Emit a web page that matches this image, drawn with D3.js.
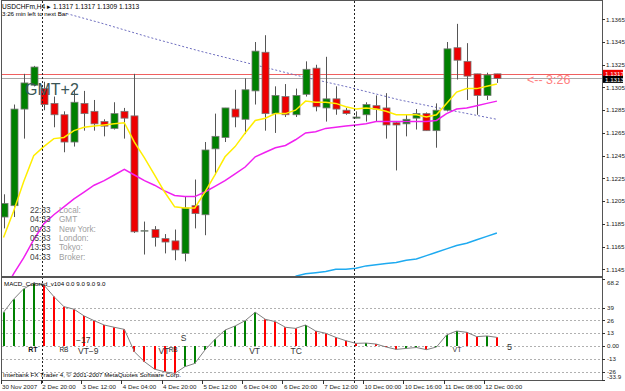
<!DOCTYPE html>
<meta charset="utf-8">
<style>
 body { margin: 0; background: #fff; }
 svg { display: block; }
 text { font-family: "Liberation Sans", Arial, sans-serif; }
</style>
<svg class="chart"></svg>
<script src="https://cdn.jsdelivr.net/npm/d3@7/dist/d3.min.js"></script>
<script>

 // USDCHFm H4 bars
 var opens  = [1.1191,1.1201,1.1286,1.1307,1.1304,1.1291,1.1281,1.1257,1.1291,1.1284,
               1.1275,1.1269,1.1284,1.1280,1.1179,1.1180,1.1172,1.1170,1.1159,1.1201,
               1.1193,1.1251,1.1261,1.1286,1.1277,1.1302,1.1336,1.1282,1.1297,1.1281,
               1.1299,1.1322,1.1287,1.1295,1.1285,1.1278,1.1281,1.1289,1.1287,1.1274,
               1.1273,1.1278,1.1282,1.1267,1.1285,1.1340,1.1328,1.1317,1.1298,1.1317];
 var highs  = [1.1211,1.1290,1.1317,1.1324,1.1310,1.1297,1.1284,1.1303,1.1302,1.1294,
               1.1277,1.1292,1.1287,1.1317,1.1187,1.1183,1.1176,1.1180,1.1209,1.1224,
               1.1257,1.1282,1.1287,1.1303,1.1313,1.1345,1.1351,1.1306,1.1308,1.1304,
               1.1328,1.1325,1.1332,1.1306,1.1287,1.1284,1.1292,1.1298,1.1300,1.1275,
               1.1281,1.1286,1.1283,1.1291,1.1345,1.1361,1.1344,1.1317,1.1318,1.1317];
 var lows   = [1.1181,1.1191,1.1260,1.1306,1.1285,1.1270,1.1248,1.1253,1.1267,1.1267,
               1.1262,1.1268,1.1260,1.1177,1.1158,1.1165,1.1159,1.1153,1.1152,1.1181,
               1.1175,1.1228,1.1257,1.1270,1.1264,1.1290,1.1267,1.1265,1.1279,1.1279,
               1.1297,1.1284,1.1275,1.1281,1.1281,1.1278,1.1275,1.1275,1.1260,1.1232,
               1.1262,1.1268,1.1267,1.1252,1.1284,1.1312,1.1294,1.1281,1.1294,1.1309];
 var closes = [1.1203,1.1286,1.1309,1.1323,1.1290,1.1281,1.1257,1.1292,1.1282,1.1273,
               1.1271,1.1282,1.1278,1.1178,1.1179,1.1173,1.1169,1.1162,1.1199,1.1194,
               1.1250,1.1262,1.1287,1.1279,1.1303,1.1337,1.1282,1.1298,1.1281,1.1298,
               1.1321,1.1288,1.1295,1.1286,1.1282,1.1279,1.1290,1.1286,1.1272,1.1272,
               1.1277,1.1282,1.1267,1.1285,1.1339,1.1329,1.1315,1.1298,1.1316,1.1313];

 var maYellow = [1.1173,1.1196,1.1222,1.1245,1.1253,1.1260,1.1261,1.1267,1.1270,1.1271,
                 1.1272,1.1273,1.1274,1.1257,1.1243,1.1228,1.1213,1.1200,1.1199,1.1199,
                 1.1213,1.1228,1.1244,1.1253,1.1265,1.1276,1.1278,1.1282,1.1282,1.1285,
                 1.1293,1.1292,1.1292,1.1291,1.1288,1.1286,1.1287,1.1286,1.1284,1.1281,
                 1.1281,1.1281,1.1279,1.1281,1.1291,1.1301,1.1304,1.1304,1.1306,1.1308];
 var maMagenta = [1.1125,1.1141,1.1155,1.1171,1.1185,1.1193,1.1200,1.1207,1.1213,1.1219,
                  1.1223,1.1228,1.1233,1.1228,1.1223,1.1219,1.1214,1.1210,1.1209,1.1209,
                  1.1213,1.1218,1.1223,1.1229,1.1235,1.1244,1.1248,1.1252,1.1254,1.1259,
                  1.1265,1.1266,1.1269,1.1270,1.1271,1.1272,1.1273,1.1275,1.1275,1.1275,
                  1.1275,1.1275,1.1275,1.1276,1.1282,1.1286,1.1287,1.1289,1.1291,1.1293];
 var maBlue = [null,null,null,null,null,null,null,null,null,null,
               null,null,null,null,null,null,null,null,null,null,
               null,null,null,null,null,null,null,null,null,1.1139,
               1.1141,1.1142,1.1143,1.1145,1.1145,1.1146,1.1148,1.1149,1.1150,1.1151,
               1.1153,1.1154,1.1157,1.1160,1.1163,1.1166,1.1168,1.1171,1.1174,1.1177];

 var trendBars   = [6.28, 9.58, 14.55, 19.51, 24.48, 29.44, 34.41, 39.37, 44.34, 49];
 var trendPrices = [1.1370,1.1362,1.1349,1.1337,1.1326,1.1315,1.1305,1.1294,1.1285,1.1277];

 var macd = [34.2,47.4,57.9,63.7,61.9,50.1,39.9,37.3,30.5,25.7,
             21.3,19.0,16.9,-5.8,-15.9,-23.4,-26.1,-27.7,-21.0,-17.6,
             -4.1,6.8,16.2,20.3,25.7,34.2,27.1,24.7,19.0,17.9,
             21.3,15.2,12.9,8.8,5.4,2.7,3.0,2.0,-1.0,-3.4,
             -2.4,-1.5,-3.7,-1.0,11.2,15.2,13.9,9.5,10.2,8.8];

 var priceTicks = [1.1365,1.1345,1.1325,1.1305,1.1285,1.1265,1.1245,1.1225,1.1205,1.1185,1.1165,1.1145];
 var macdTicks  = [68.2, 39, 26, 13, 0, -13, -26, -33.9];
 var macdGrid   = [39, 26, 13, 0, -13, -26];
 var timeBars   = [0,4,8,12,16,20,24,28,32,36,40,44,48];
 var timeLabels = ["30 Nov 2007","2 Dec 20:00","3 Dec 12:00","4 Dec 04:00","4 Dec 20:00","5 Dec 12:00",
                   "6 Dec 04:00","6 Dec 20:00","7 Dec 12:00","10 Dec 00:00","10 Dec 16:00","11 Dec 08:00","12 Dec 00:00"];
 var separatorBars = [4, 35];

 var clockTimes  = ["22:33","04:33","00:33","05:33","13:33","04:33"];
 var clockPlaces = ["Local:","GMT","New York:","London:","Tokyo:","Broker:"];

 var marks = [ {t:"RT", b:2.45, v:-6.5, size:7, w:"bold", c:"#111"},
               {t:"RB", b:5.55, v:-6.5, size:6.5, w:"normal", c:"#222"},
               {t:"VT\u22129", b:7.4, v:-8.5, size:8.5, w:"normal", c:"#333"},
               {t:"\u221217", b:7.2, v:3.0, size:8.5, w:"normal", c:"#333"},
               {t:"VT", b:15.4, v:-8.5, size:8.5, w:"normal", c:"#333"},
               {t:"RB", b:16.4, v:-6.5, size:6.5, w:"normal", c:"#222"},
               {t:"S", b:17.6, v:5.0, size:8.5, w:"normal", c:"#333"},
               {t:"VT", b:24.4, v:-8.5, size:8.5, w:"normal", c:"#333"},
               {t:"TC", b:28.5, v:-8.5, size:8.5, w:"normal", c:"#333"},
               {t:"VT", b:44.6, v:-6.5, size:7, w:"normal", c:"#333"},
               {t:"5", b:50, v:-3.6, size:9, w:"normal", c:"#333"} ];

 var W = 625, H = 391;
 var svg = d3.select(".chart").attr("width", W).attr("height", H);

 var x  = d3.scaleLinear().domain([0, 49]).range([3.5, 496.9]);
 var y  = d3.scaleLinear().domain([1.1145, 1.1365]).range([269.3, 19.3]);
 var ym = d3.scaleLinear().domain([-33.9, 68.2]).range([379.5, 278.7]);

 var defs = svg.append("defs");
 defs.append("clipPath").attr("id", "mainClip").append("rect")
     .attr("x", 2).attr("y", 1).attr("width", 600).attr("height", 275);
 defs.append("clipPath").attr("id", "macdClip").append("rect")
     .attr("x", 2).attr("y", 278).attr("width", 600).attr("height", 102);

 // frame
 svg.append("rect").attr("x", 1.5).attr("y", 0.5).attr("width", 601).attr("height", 380)
    .attr("fill", "#fff").attr("stroke", "#555");

 var main = svg.append("g").attr("clip-path", "url(#mainClip)");
 var sub  = svg.append("g").attr("clip-path", "url(#macdClip)");

 // period separators
 svg.selectAll(".sep").data(separatorBars).enter().append("line")
    .attr("x1", function(d) { return Math.round(x(d)) - 1.5; })
    .attr("x2", function(d) { return Math.round(x(d)) - 1.5; })
    .attr("y1", 1).attr("y2", 383)
    .attr("stroke", "#222").attr("stroke-dasharray", "2,2");

 // ask / bid lines
 main.append("line").attr("x1", 2).attr("x2", 602)
     .attr("y1", Math.round(y(highs[49])) + 0.5).attr("y2", Math.round(y(highs[49])) + 0.5)
     .attr("stroke", "#f06060");
 main.append("line").attr("x1", 2).attr("x2", 602)
     .attr("y1", Math.round(y(closes[49])) + 0.5).attr("y2", Math.round(y(closes[49])) + 0.5)
     .attr("stroke", "#a8a8a8");

 // trend line
 var trend = d3.zip(trendBars, trendPrices);
 main.append("path").datum(trend)
     .attr("d", d3.line().x(function(d) { return x(d[0]); }).y(function(d) { return y(d[1]); }))
     .attr("fill", "none").attr("stroke", "#6f6fc0").attr("stroke-dasharray", "2,2");

 // candles
 var idx = d3.range(opens.length);
 var candle = main.selectAll(".candle").data(idx).enter().append("g");
 candle.append("line")
     .attr("x1", function(i) { return Math.round(x(i)) + 0.5; })
     .attr("x2", function(i) { return Math.round(x(i)) + 0.5; })
     .attr("y1", function(i) { return y(highs[i]); })
     .attr("y2", function(i) { return y(lows[i]); })
     .attr("stroke", "#555");
 candle.append("rect")
     .attr("x", function(i) { return Math.round(x(i)) - 3; })
     .attr("width", 7)
     .attr("y", function(i) { return y(Math.max(opens[i], closes[i])); })
     .attr("height", function(i) { return Math.max(0.5, Math.abs(y(opens[i]) - y(closes[i]))); })
     .attr("fill", function(i) { return closes[i] >= opens[i] ? "#008000" : "#ee0000"; })
     .attr("stroke", "#777").attr("stroke-width", 0.8);

 // moving averages
 function maLine(arr, color, w) {
     main.append("path").datum(idx)
         .attr("d", d3.line().defined(function(i) { return arr[i] != null; })
                 .x(function(i) { return x(i); }).y(function(i) { return y(arr[i]); }))
         .attr("fill", "none").attr("stroke", color).attr("stroke-width", w);
 }
 maLine(maBlue, "#1eaaf0", 1.5);
 maLine(maMagenta, "#f020f0", 1.5);
 maLine(maYellow, "#ffee00", 1.5);

 // price axis
 svg.selectAll(".ptick").data(priceTicks).enter().append("line")
    .attr("x1", 602).attr("x2", 605)
    .attr("y1", function(d) { return Math.round(y(d)) + 0.5; })
    .attr("y2", function(d) { return Math.round(y(d)) + 0.5; })
    .attr("stroke", "#333");
 svg.selectAll(".plabel").data(priceTicks).enter().append("text")
    .attr("x", 606).attr("y", function(d) { return y(d) + 2.2; })
    .attr("font-size", 6.2).attr("fill", "#222")
    .text(function(d) { return d.toFixed(4); });

 var boxes = [[highs[49], "#f00000"], [closes[49], "#000"]];
 svg.selectAll(".pbox").data(boxes).enter().append("rect")
    .attr("x", 603).attr("width", 20).attr("height", 7)
    .attr("y", function(d, k) { return y(d[0]) - 4 + k * 1.5; })
    .attr("fill", function(d) { return d[1]; });
 svg.selectAll(".pboxt").data(boxes).enter().append("text")
    .attr("x", 605).attr("y", function(d, k) { return y(d[0]) + 2 + k * 1.5; })
    .attr("font-size", 6.2).attr("fill", "#fff")
    .text(function(d) { return d[0].toFixed(4); });

 // texts on main panel
 svg.append("text").attr("x", 2).attr("y", 8.5).attr("font-size", 6.6).attr("fill", "#000")
    .text("USDCHFm,H4 \u25B8 1.1317 1.1317 1.1309 1.1313");
 svg.append("text").attr("x", 2).attr("y", 15.5).attr("font-size", 6.2).attr("fill", "#000")
    .text("3:26 min left to next Bar");
 svg.append("text").attr("x", 25).attr("y", 95).attr("font-size", 16).attr("fill", "#3b5656")
    .text("GMT+2");
 svg.append("text").attr("x", 527).attr("y", 83.5).attr("font-size", 12.5).attr("fill", "#ff8080")
    .text("<-- 3:26");

 var clock = svg.selectAll(".clock").data(clockTimes).enter().append("g")
    .attr("transform", function(d, k) { return "translate(0," + (212.7 + k * 9.43) + ")"; });
 clock.append("text").attr("x", 30).attr("font-size", 8.2).attr("fill", "#444")
    .text(function(d) { return d; });
 clock.append("text").attr("x", 59).attr("font-size", 8.2).attr("fill", "#a0a0a0")
    .text(function(d, k) { return clockPlaces[k]; });

 // MACD panel
 svg.append("line").attr("x1", 1).attr("x2", 603).attr("y1", 277).attr("y2", 277)
    .attr("stroke", "#555").attr("stroke-width", 2);

 sub.selectAll(".grid").data(macdGrid).enter().append("line")
    .attr("x1", 2).attr("x2", 602)
    .attr("y1", function(d) { return Math.round(ym(d)) + 0.5; })
    .attr("y2", function(d) { return Math.round(ym(d)) + 0.5; })
    .attr("stroke", "#b0b0b0").attr("stroke-dasharray", "2,2");

 sub.selectAll(".hist").data(idx).enter().append("line")
    .attr("x1", function(i) { return Math.round(x(i)); })
    .attr("x2", function(i) { return Math.round(x(i)); })
    .attr("y1", ym(0))
    .attr("y2", function(i) { return ym(macd[i]); })
    .attr("stroke", function(i) { return (i == 0 || macd[i] >= macd[i - 1]) ? "#008000" : "#ff0000"; })
    .attr("stroke-width", 2);

 sub.append("path").datum(idx)
    .attr("d", d3.line().x(function(i) { return x(i); }).y(function(i) { return ym(macd[i]); }))
    .attr("fill", "none").attr("stroke", "#808080").attr("stroke-width", 1);

 svg.selectAll(".mark").data(marks).enter().append("text")
    .attr("x", function(d) { return x(d.b); })
    .attr("y", function(d) { return ym(d.v); })
    .attr("font-size", function(d) { return d.size; })
    .attr("font-weight", function(d) { return d.w; })
    .attr("fill", function(d) { return d.c; })
    .text(function(d) { return d.t; });

 svg.append("text").attr("x", 4).attr("y", 286).attr("font-size", 6.2).attr("fill", "#000")
    .text("MACD_Colored_v104 0.0 9.0 9.0 9.0");
 svg.append("text").attr("x", 3).attr("y", 377).attr("font-size", 6.2).attr("fill", "#000")
    .text("Interbank FX Trader 4, \u00A9 2001-2007 MetaQuotes Software Corp.");

 svg.selectAll(".mtick").data(macdTicks).enter().append("line")
    .attr("x1", 602).attr("x2", 605)
    .attr("y1", function(d) { return Math.round(ym(d)) + 0.5; })
    .attr("y2", function(d) { return Math.round(ym(d)) + 0.5; })
    .attr("stroke", "#333");
 svg.selectAll(".mlabel").data(macdTicks).enter().append("text")
    .attr("x", 607)
    .attr("y", function(d) { return Math.min(379, Math.max(284.5, ym(d) + 2.2)); })
    .attr("font-size", 6.2).attr("fill", "#222")
    .text(function(d) { return d == 0 ? "0.00" : String(d); });

 // time axis
 svg.selectAll(".ttick").data(timeBars).enter().append("line")
    .attr("x1", function(d) { return Math.round(x(d)) - 2.5; })
    .attr("x2", function(d) { return Math.round(x(d)) - 2.5; })
    .attr("y1", 380).attr("y2", 384)
    .attr("stroke", "#333");
 svg.selectAll(".tlabel").data(timeBars).enter().append("text")
    .attr("x", function(d) { return x(d) - 1.5; })
    .attr("y", 389)
    .attr("font-size", 6.2).attr("fill", "#222")
    .text(function(d, k) { return timeLabels[k]; });

</script>
